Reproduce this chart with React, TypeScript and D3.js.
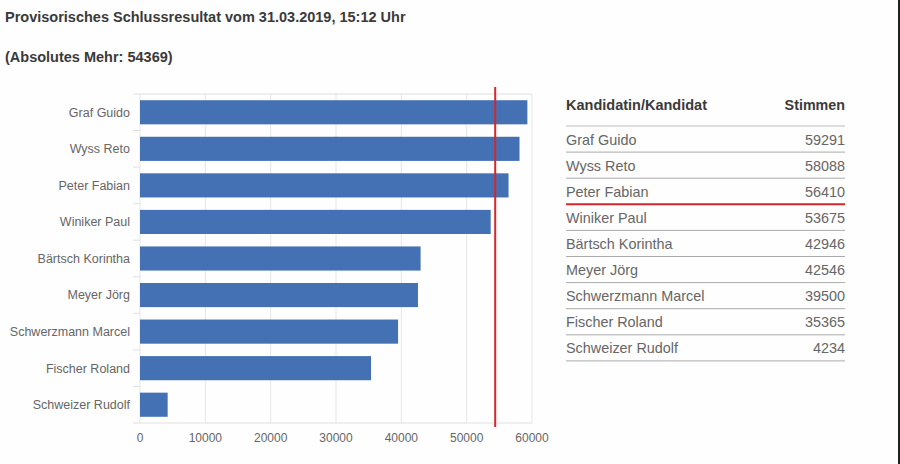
import React from "react";
import * as d3 from "d3";

const candidates = [
  "Graf Guido",
  "Wyss Reto",
  "Peter Fabian",
  "Winiker Paul",
  "Bärtsch Korintha",
  "Meyer Jörg",
  "Schwerzmann Marcel",
  "Fischer Roland",
  "Schweizer Rudolf",
];
const votes = [59291, 58088, 56410, 53675, 42946, 42546, 39500, 35365, 4234];
const xTicks = [0, 10000, 20000, 30000, 40000, 50000, 60000];
const absoluteMajority = 54369;
const electedCount = 3;

const title = "Provisorisches Schlussresultat vom 31.03.2019, 15:12 Uhr";
const subtitle = `(Absolutes Mehr: ${absoluteMajority})`;
const tableHeaders = ["Kandidatin/Kandidat", "Stimmen"];

const W = 900;
const H = 464;
const FONT = "'Liberation Sans', Arial, sans-serif";

export default function App() {
  if (typeof document !== "undefined") document.body.style.margin = "0";

  const x = d3.scaleLinear().domain([0, 60000]).range([140, 532]);
  const y = d3
    .scaleBand<string>()
    .domain(candidates)
    .range([94, 423])
    .paddingInner(0.34)
    .paddingOuter(0.17);
  const step = y.step();

  // table layout
  const tLeft = 566;
  const tRight = 845;
  const headerY = 110;
  const headerLine = 126;
  const rowH = 26.1;
  const rowLine = (i: number) => headerLine + rowH * (i + 1);

  return (
    <svg width={W} height={H} style={{ display: "block", background: "#fefefe" }} fontFamily={FONT}>
      <rect x={0} y={0} width={W} height={H} fill="#fefefe" />
      <text x={5} y={22} fontSize={14.5} fontWeight="bold" fill="#3a3a3a">{title}</text>
      <text x={5} y={62} fontSize={14.5} fontWeight="bold" fill="#3a3a3a">{subtitle}</text>

      {/* vertical gridlines */}
      {xTicks.map((t) => (
        <line key={"g" + t} x1={x(t)} x2={x(t)} y1={94} y2={423} stroke="#e6e6e6" strokeWidth={1} />
      ))}
      {/* top and bottom lines */}
      <line x1={133} x2={532} y1={94} y2={94} stroke="#e0e0e0" />
      <line x1={133} x2={532} y1={423} y2={423} stroke="#e0e0e0" />
      {/* category ticks */}
      {candidates.slice(1).map((c) => {
        const yy = y(c)! - (step - y.bandwidth()) / 2;
        return <line key={"t" + c} x1={133} x2={140} y1={yy} y2={yy} stroke="#e0e0e0" />;
      })}

      {/* bars */}
      {candidates.map((c, i) => (
        <rect key={"b" + c} x={x(0)} y={y(c)} width={x(votes[i]) - x(0)} height={y.bandwidth()} fill="#4471b3" />
      ))}

      {/* category labels */}
      {candidates.map((c) => (
        <text key={"l" + c} x={130} y={y(c)! + y.bandwidth() / 2} dy="0.35em" textAnchor="end" fontSize={12.5} fill="#666">
          {c}
        </text>
      ))}

      {/* x axis labels */}
      {xTicks.map((t) => (
        <text key={"x" + t} x={x(t)} y={442} textAnchor="middle" fontSize={12} fill="#666">
          {t}
        </text>
      ))}

      {/* absolute majority line */}
      <line x1={x(absoluteMajority)} x2={x(absoluteMajority)} y1={87} y2={427} stroke="#d7262b" strokeWidth={2} />

      {/* table */}
      <text x={tLeft} y={headerY} fontSize={14.5} fontWeight="bold" fill="#3a3a3a">{tableHeaders[0]}</text>
      <text x={tRight} y={headerY} fontSize={14.3} fontWeight="bold" fill="#3a3a3a" textAnchor="end">{tableHeaders[1]}</text>
      <line x1={tLeft} x2={tRight} y1={headerLine} y2={headerLine} stroke="#ddd" strokeWidth={2} />
      {candidates.map((c, i) => {
        const cy = headerLine + rowH * i + rowH / 2 + 0.5;
        const ly = rowLine(i);
        const elected = i === electedCount - 1;
        return (
          <g key={"r" + c}>
            <text x={tLeft} y={cy} dy="0.35em" fontSize={14.4} fill="#666">{c}</text>
            <text x={tRight} y={cy} dy="0.35em" fontSize={14.4} fill="#666" textAnchor="end">{votes[i]}</text>
            <line x1={tLeft} x2={tRight} y1={ly} y2={ly} stroke={elected ? "#d7262b" : "#aaa"} strokeWidth={elected ? 2 : 1} />
          </g>
        );
      })}

      {/* right border */}
      <line x1={899} x2={899} y1={0} y2={H} stroke="#222" strokeWidth={2} />
    </svg>
  );
}
